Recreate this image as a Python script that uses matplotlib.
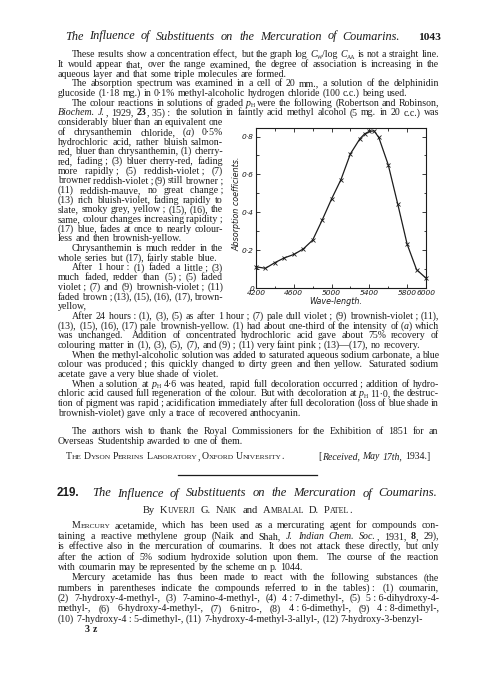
import matplotlib

matplotlib.use("Agg")
import matplotlib.pyplot as plt
from matplotlib.lines import Line2D

# ---- absorption curve ----
wavelength = [4200, 4300, 4400, 4500, 4600, 4700, 4800, 4900, 5000, 5100, 5200,
              5300, 5350, 5400, 5450, 5500, 5600, 5700, 5800, 5900, 6000]
absorption = [0.112, 0.104, 0.134, 0.159, 0.177, 0.206, 0.253, 0.358, 0.470, 0.573, 0.709,
              0.788, 0.814, 0.827, 0.830, 0.795, 0.651, 0.445, 0.232, 0.097, 0.052]
x_major = [4200, 4600, 5000, 5400, 5800, 6000]
x_minor = [4400, 4800, 5200, 5600]
y_major = [0, 0.2, 0.4, 0.6, 0.8]
y_major_labels = ["0", "0·2", "0·4", "0·6", "0·8"]
y_minor = [0.1, 0.3, 0.5, 0.7]
x_label = "Wave-length."
y_label = "Absorption coefficients."

# ---- page text (markup: *italic*  #bold#  ^small caps^  ~subscript~) ----
running_head = "*The Influence of Substituents on the Mercuration of Coumarins.*"
page_number = "1043"

part_one = [
    ["These results show a concentration effect, but the graph log *C*~W~/log *C*~AA~ is not a straight line.",
     "It would appear that, over the range examined, the degree of association is increasing in the",
     "aqueous layer and that some triple molecules are formed."],
    ["The absorption spectrum was examined in a cell of 20 mm., a solution of the delphinidin",
     "glucoside (1·18 mg.) in 0·1% methyl-alcoholic hydrogen chloride (100 c.c.) being used."],
    ["The colour reactions in solutions of graded *p*~H~ were the following (Robertson and Robinson,",
     "*Biochem. J.*, 1929, #23#, 35)\u00a0:  the solution in faintly acid methyl alcohol (5 mg. in 20 c.c.) was",
     "considerably bluer than an equivalent one",
     "of chrysanthemin chloride, (*a*) 0·5%",
     "hydrochloric acid, rather bluish salmon-",
     "red, bluer than chrysanthemin, (1) cherry-",
     "red, fading\u00a0; (3) bluer cherry-red, fading",
     "more rapidly\u00a0; (5) reddish-violet\u00a0; (7)",
     "browner reddish-violet\u00a0; (9) still browner\u00a0;",
     "(11) reddish-mauve, no great change\u00a0;",
     "(13) rich bluish-violet, fading rapidly to",
     "slate, smoky grey, yellow\u00a0; (15), (16), the",
     "same, colour changes increasing rapidity\u00a0;",
     "(17) blue, fades at once to nearly colour-",
     "less and then brownish-yellow."],
    ["Chrysanthemin is much redder in the",
     "whole series but (17), fairly stable blue."],
    ["After 1 hour\u00a0: (1) faded a little\u00a0; (3)",
     "much faded, redder than (5)\u00a0; (5) faded",
     "violet\u00a0; (7) and (9) brownish-violet\u00a0; (11)",
     "faded brown\u00a0; (13), (15), (16), (17), brown-",
     "yellow,"],
    ["After 24 hours\u00a0: (1), (3), (5) as after 1 hour\u00a0; (7) pale dull violet\u00a0; (9) brownish-violet\u00a0; (11),",
     "(13), (15), (16), (17) pale brownish-yellow.  (1) had about one-third of the intensity of (*a*) which",
     "was unchanged.  Addition of concentrated hydrochloric acid gave about 75% recovery of",
     "colouring matter in (1), (3), (5), (7), and (9)\u00a0; (11) very faint pink\u00a0; (13)—(17), no recovery."],
    ["When the methyl-alcoholic solution was added to saturated aqueous sodium carbonate, a blue",
     "colour was produced\u00a0; this quickly changed to dirty green and then yellow.  Saturated sodium",
     "acetate gave a very blue shade of violet."],
    ["When a solution at *p*~H~ 4·6 was heated, rapid full decoloration occurred\u00a0; addition of hydro-",
     "chloric acid caused full regeneration of the colour.  But with decoloration at *p*~H~ 11·0, the destruc-",
     "tion of pigment was rapid\u00a0; acidification immediately after full decoloration (loss of blue shade in",
     "brownish-violet) gave only a trace of recovered anthocyanin."],
]

thanks = ["The authors wish to thank the Royal Commissioners for the Exhibition of 1851 for an",
          "Overseas Studentship awarded to one of them."]
lab_line = "^The Dyson Perrins Laboratory, Oxford University.^"
received = "[*Received, May 17th,* 1934.]"
paper_number = "219."
paper_title = "*The Influence of Substituents on the Mercuration of Coumarins.*"
byline = "By ^Kuverji G. Naik^ and ^Ambalal D. Patel.^"

part_two = [
    ["^Mercury^ acetamide, which has been used as a mercurating agent for compounds con-",
     "taining a reactive methylene group (Naik and Shah, *J. Indian Chem. Soc.*, 1931, #8#, 29),",
     "is effective also in the mercuration of coumarins.  It does not attack these directly, but only",
     "after the action of 5% sodium hydroxide solution upon them.  The course of the reaction",
     "with coumarin may be represented by the scheme on p. 1044."],
    ["Mercury acetamide has thus been made to react with the following substances (the",
     "numbers in parentheses indicate the compounds referred to in the tables)\u00a0:  (1) coumarin,",
     "(2) 7-hydroxy-4-methyl-, (3) 7-amino-4-methyl-, (4) 4\u00a0:\u00a07-dimethyl-, (5) 5\u00a0:\u00a06-dihydroxy-4-",
     "methyl-, (6) 6-hydroxy-4-methyl-, (7) 6-nitro-, (8) 4\u00a0:\u00a06-dimethyl-, (9) 4\u00a0:\u00a08-dimethyl-,",
     "(10) 7-hydroxy-4\u00a0:\u00a05-dimethyl-, (11) 7-hydroxy-4-methyl-3-allyl-, (12) 7-hydroxy-3-benzyl-"],
]
signature = "3 z"

W, H, DPI = 500, 679, 100
INK = "#1c1c1c"
BODY = 7.1

plt.rcParams["font.family"] = ["Liberation Serif", "DejaVu Serif"]

fig = plt.figure(figsize=(W / DPI, H / DPI), dpi=DPI, facecolor="white")
renderer = fig.canvas.get_renderer()


def parse_words(line):
    words, gaps = [[]], []
    italic = bold = caps = sub = False
    for ch in line:
        if ch == "*":
            italic = not italic
        elif ch == "#":
            bold = not bold
        elif ch == "^":
            caps = not caps
        elif ch == "~":
            sub = not sub
        elif ch == " ":
            if words[-1]:
                words.append([])
                gaps.append(1.0)
            elif gaps:
                gaps[-1] += 0.7  # wider gap after a full stop
        else:
            words[-1].append((ch, italic, bold, caps, sub))
    if not words[-1]:
        words.pop()
    return words, gaps[: len(words) - 1]


def segments(word):
    segs = []
    for ch, it, bd, sc, sub in word:
        small = sc and ch.islower()
        key = (it, bd, small, sub)
        c = ch.upper() if small else ch
        if segs and segs[-1][1] == key:
            segs[-1][0] += c
        else:
            segs.append([c, key])
    return segs


def draw_line(line, y, x0, x1, how="left", size=BODY):
    """Set one printed line with its baseline at page pixel y."""
    words, gaps = parse_words(line)
    groups, widths = [], []
    for w in words:
        group, total = [], 0.0
        for s, (it, bd, small, sub) in segments(w):
            scale = 0.6 if sub else (0.76 if small else 1.0)
            drop = 1.3 if sub else 0.0
            t = fig.text(0, 1 - (y + drop) / H, s, fontsize=size * scale,
                         fontstyle="italic" if it else "normal",
                         fontweight="bold" if bd else "normal",
                         va="baseline", ha="left", color=INK)
            wd = t.get_window_extent(renderer).width
            group.append((t, wd))
            total += wd
        groups.append(group)
        widths.append(total)
    space = size * 0.26 * DPI / 72
    natural = sum(widths) + space * sum(gaps)
    if how == "justify" and gaps:
        gap, x = (x1 - x0 - sum(widths)) / sum(gaps), x0
        if gap < 0.55 * space:
            # too tight for this size: set it again a touch smaller
            for group in groups:
                for t, _ in group:
                    t.remove()
            return draw_line(line, y, x0, x1, how, size * 0.97)
    else:
        gap = space
        x = {"left": x0, "right": x1 - natural, "center": (x0 + x1 - natural) / 2}[how]
    for i, group in enumerate(groups):
        for t, wd in group:
            t.set_x(x / W)
            x += wd
        if i < len(gaps):
            x += gap * gaps[i]


def set_paragraphs(paragraphs, top, step, column_rows=(), col_right=223, indent=14):
    row = 0
    for para in paragraphs:
        for k, line in enumerate(para):
            right = col_right if row in column_rows else 439
            left = 58 + (indent if k == 0 else 0)
            how = "left" if k == len(para) - 1 else "justify"
            draw_line(line, top + step * row, left, right, how)
            row += 1


# running head
draw_line(running_head, 39.5, 65, 400, "justify", size=8.8)
draw_line("#" + page_number + "#", 39.5, 58, 441, "right", size=8.2)

# first article, the colour paragraph wraps round the figure
set_paragraphs(part_one, 57.3, 9.69, column_rows=range(7, 27))

# acknowledgement and address
draw_line(thanks[0], 434, 72, 438, "justify")
draw_line(thanks[1], 444, 58, 438, "left")
draw_line(lab_line, 459, 66, 284, "justify", size=7.0)
draw_line(received, 459, 300, 430, "right", size=7.0)
fig.add_artist(Line2D([178 / W, 317 / W], [1 - 474.5 / H] * 2, color=INK, lw=0.9))

# next paper
fig.text(57 / W, 1 - 496.5 / H, paper_number, family="Liberation Sans", fontweight="bold",
         fontsize=8.4, color=INK, va="baseline")
draw_line(paper_title, 496.5, 92, 437, "justify", size=9.0)
draw_line(byline, 513, 143, 352, "justify", size=7.6)
set_paragraphs(part_two, 528.5, 10.37)
draw_line("#" + signature + "#", 632, 85, 120, "left", size=7.1)

# ---- the absorption figure ----
ax = fig.add_axes([256 / W, 1 - 288 / H, 170 / W, 160 / H])
ax.plot(wavelength, absorption, color=INK, lw=0.9, marker="x", ms=2.4, mew=0.6, clip_on=False)
ax.set_xlim(4200, 6000)
ax.set_ylim(0, 0.845)
tick_font = dict(family="DejaVu Sans", fontstyle="oblique", fontsize=5.4, color=INK)
ax.set_xticks(x_major, [str(v) for v in x_major], **tick_font)
ax.set_xticks(x_minor, minor=True)
ax.set_yticks(y_major, y_major_labels, **tick_font)
ax.set_yticks(y_minor, minor=True)
ax.tick_params(which="both", direction="in", top=True, right=True, width=0.6, color=INK, pad=1.5)
ax.tick_params(which="major", length=2.6)
ax.tick_params(which="minor", length=1.8)
for side in ax.spines.values():
    side.set_linewidth(0.8)
    side.set_color(INK)
ax.set_xlabel(x_label, family="DejaVu Sans", fontstyle="oblique", fontsize=5.8, color=INK)
ax.xaxis.set_label_coords(0.47, -0.055)
ax.set_ylabel(y_label, family="DejaVu Sans", fontstyle="oblique", fontsize=5.8, color=INK)
ax.yaxis.set_label_coords(-0.085, 0.525)

fig.savefig("out.png", dpi=DPI, facecolor="white")
